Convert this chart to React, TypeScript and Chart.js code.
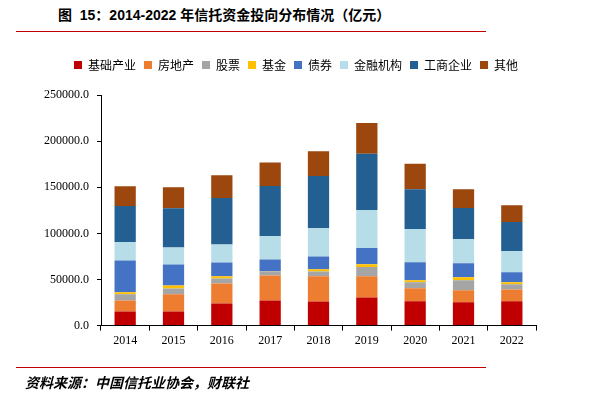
import React, { useEffect, useRef } from "react";
import { Chart, registerables } from "chart.js";

Chart.register(...registerables);

const years = ["2014", "2015", "2016", "2017", "2018", "2019", "2020", "2021", "2022"];
const infra = [15200, 15200, 23900, 27200, 26100, 30400, 26400, 25400, 26400];
const realEstate = [12000, 18800, 21800, 27100, 27500, 23200, 14200, 13000, 12700];
const stocks = [6800, 6200, 5400, 4700, 5100, 9800, 6500, 10900, 5800];
const funds = [2200, 3300, 2500, 300, 2500, 3200, 2200, 3200, 2200];
const bonds = [34400, 22800, 14900, 12400, 13800, 17400, 19500, 15200, 10800];
const financial = [20000, 18500, 19500, 25400, 30800, 41300, 35900, 26100, 22900];
const industrial = [39100, 42400, 50400, 54300, 56500, 60900, 43100, 33700, 31500];
const others = [21400, 22800, 24600, 25400, 26800, 33400, 27600, 20300, 18100];
const yTicks = [0, 50000, 100000, 150000, 200000, 250000];

const seriesNames = ["基础产业", "房地产", "股票", "基金", "债券", "金融机构", "工商企业", "其他"];
const seriesData = [infra, realEstate, stocks, funds, bonds, financial, industrial, others];
const seriesColors = ["#C00000", "#ED7D31", "#A5A5A5", "#FFC000", "#4472C4", "#B7DEE8", "#245F91", "#9C470D"];

const legendSpacer = {
  id: "legendSpacer",
  beforeInit(chart: any) {
    const orig = chart.legend.fit;
    chart.legend.fit = function () {
      orig.bind(chart.legend)();
      this.height += 14;
    };
  },
};

export default function App() {
  const ref = useRef<HTMLCanvasElement>(null);
  useEffect(() => {
    document.body.style.margin = "0";
    const ctx = ref.current!;
    const chart = new Chart(ctx, {
      type: "bar",
      data: {
        labels: years,
        datasets: seriesData.map((d, i) => ({
          label: seriesNames[i],
          data: d,
          backgroundColor: seriesColors[i],
          borderWidth: 0,
          categoryPercentage: 1,
          barPercentage: 0.44,
          yAxisID: "y",
        })),
      },
      options: {
        animation: false,
        responsive: false,
        devicePixelRatio: 1,
        layout: { padding: { top: 51, left: 0, right: 0, bottom: 48 } },
        plugins: {
          tooltip: { enabled: false },
          legend: {
            position: "top",
            labels: {
              boxWidth: 8,
              boxHeight: 8,
              padding: 8,
              color: "#000",
              font: { family: "'Noto Sans CJK SC', 'Liberation Sans'", size: 12 },
            },
          },
        },
        scales: {
          x: {
            stacked: true,
            grid: { display: true, drawOnChartArea: false, drawTicks: true, tickLength: 5, color: "#000", offset: true },
            border: { display: true, color: "#000", width: 1 },
            ticks: { color: "#000", padding: 3, font: { family: "'Liberation Serif'", size: 12 } },
          },
          y: {
            stacked: true,
            min: 0,
            max: 250000,
            afterBuildTicks(s: any) {
              s.ticks = yTicks.map((v) => ({ value: v }));
            },
            afterFit(s: any) {
              s.width = 101;
            },
            grid: { display: true, drawOnChartArea: false, drawTicks: true, tickLength: 4, color: "#000" },
            border: { display: true, color: "#000", width: 1 },
            ticks: {
              color: "#000",
              padding: 8,
              font: { family: "'Liberation Serif'", size: 12 },
              callback: (v: any) => Number(v).toFixed(1),
            },
          },
          y2: {
            position: "right",
            display: true,
            grid: { display: false },
            border: { display: false },
            ticks: { display: false },
            afterFit(s: any) {
              s.width = 56;
            },
          },
        },
      } as any,
      plugins: [legendSpacer],
    });
    return () => chart.destroy();
  }, []);

  return (
    <div style={{ position: "relative", width: 592, height: 399, background: "#fff", overflow: "hidden" }}>
      <div
        style={{
          position: "absolute",
          left: 58,
          top: 5,
          fontFamily: "'Liberation Sans', 'Noto Sans CJK SC', sans-serif",
          fontWeight: "bold",
          fontSize: 14,
          color: "#000",
          whiteSpace: "nowrap",
          lineHeight: "20px",
        }}
      >
        图&nbsp;&nbsp;15：2014-2022 年信托资金投向分布情况（亿元）
      </div>
      <div style={{ position: "absolute", left: 16, top: 31, width: 470, height: 1, background: "#C00000" }} />
      <canvas ref={ref} width={592} height={399} style={{ position: "absolute", left: 0, top: 0, width: 592, height: 399 }} />
      <div style={{ position: "absolute", left: 16, top: 367, width: 470, height: 1, background: "#C00000" }} />
      <div
        style={{
          position: "absolute",
          left: 25,
          top: 373,
          fontFamily: "'Noto Sans CJK SC', sans-serif",
          fontStyle: "italic",
          fontWeight: 600,
          fontSize: 14,
          color: "#000",
          whiteSpace: "nowrap",
          lineHeight: "18px",
        }}
      >
        资料来源：中国信托业协会，财联社
      </div>
    </div>
  );
}
